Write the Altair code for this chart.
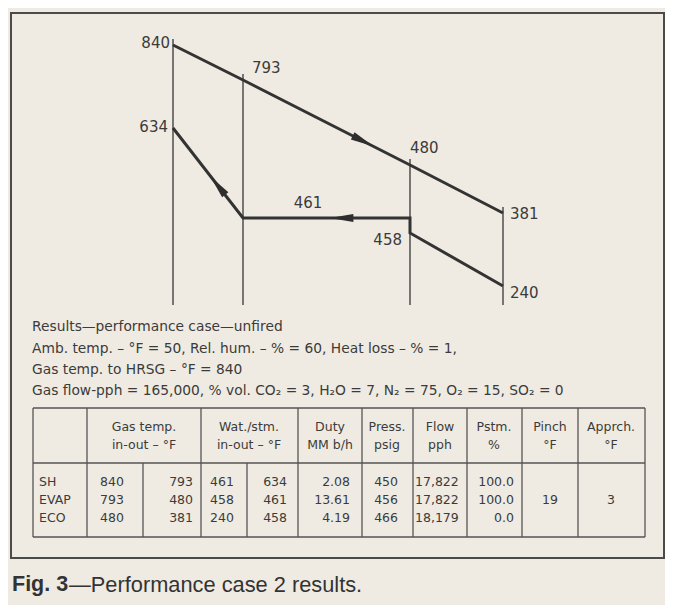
import altair as alt
import pandas as pd

# ---------------- data ----------------
stations = [0, 1, 2, 3]
gas_temps = [840, 793, 480, 381]
water_stations = [0, 1, 2, 2, 3]
water_temps = [634, 461, 461, 458, 240]

info_lines = [
    "Results\u2014performance case\u2014unfired",
    "Amb. temp. \u2013 \u00b0F = 50,  Rel. hum. \u2013 % = 60, Heat loss \u2013 % = 1,",
    "Gas temp. to HRSG \u2013 \u00b0F = 840",
    "Gas flow-pph = 165,000, % vol. CO\u2082 = 3, H\u2082O = 7, N\u2082 = 75, O\u2082 = 15, SO\u2082 = 0",
]

head1 = ["Gas temp.", "Wat./stm.", "Duty", "Press.", "Flow", "Pstm.", "Pinch", "Apprch."]
head2 = ["in-out \u2013 \u00b0F", "in-out \u2013 \u00b0F", "MM b/h", "psig", "pph", "%", "\u00b0F", "\u00b0F"]

sections = ["SH", "EVAP", "ECO"]
gas_in = ["840", "793", "480"]
gas_out = ["793", "480", "381"]
wat_in = ["461", "458", "240"]
wat_out = ["634", "461", "458"]
duty = ["2.08", "13.61", "4.19"]
press = ["450", "456", "466"]
flow = ["17,822", "17,822", "18,179"]
pstm = ["100.0", "100.0", "0.0"]
pinch = ["", "19", ""]
apprch = ["", "3", ""]

caption_bold = "Fig. 3"
caption_rest = "\u2014Performance case 2 results."

# ---------------- layout helpers ----------------
W, H = 657, 597
OX, OY = 8, 8
def px(x):
    return x - OX
def py(y):
    return y - OY

INK = "#3b3b3b"
FONT = "DejaVu Sans"
CAP_FONT = "Liberation Sans"

x_sc = alt.Scale(domain=stations, range=[px(173), px(243), px(410), px(503)], nice=False, zero=False)
gas_sc = alt.Scale(domain=[381, 480, 793, 840], range=[py(213), py(165), py(80), py(45)], nice=False, zero=False)
wat_sc = alt.Scale(domain=[240, 458, 461, 634], range=[py(286), py(233), py(218), py(128)], nice=False, zero=False)

layers = []

# border of the figure
layers.append(
    alt.Chart(pd.DataFrame({"a": [0]})).mark_rect(fill=None, stroke="#4a4a4a", strokeWidth=2)
    .encode(x=alt.value(px(11)), x2=alt.value(px(664)), y=alt.value(py(13)), y2=alt.value(py(558)))
)

# ---------------- diagram ----------------
gas_df = pd.DataFrame({"station": stations, "temp": gas_temps})
layers.append(
    alt.Chart(gas_df).mark_rule(color="#444", strokeWidth=1.4, yOffset=-6)
    .encode(
        x=alt.X("station:Q", scale=x_sc, axis=None),
        y=alt.Y("temp:Q", scale=gas_sc, axis=None),
        y2=alt.value(py(305)),
    )
)
layers.append(
    alt.Chart(gas_df).mark_line(color="#333", strokeWidth=3)
    .encode(x=alt.X("station:Q", scale=x_sc, axis=None), y=alt.Y("temp:Q", scale=gas_sc, axis=None))
)
wat_df = pd.DataFrame({"station": water_stations, "temp": water_temps, "seq": list(range(len(water_temps)))})
layers.append(
    alt.Chart(wat_df).mark_line(color="#333", strokeWidth=3)
    .encode(
        x=alt.X("station:Q", scale=x_sc, axis=None),
        y=alt.Y("temp:Q", scale=wat_sc, axis=None),
        order="seq:Q",
    )
)

def interp(s0, t0, s1, t1, f):
    return s0 + (s1 - s0) * f, t0 + (t1 - t0) * f

arrow_shape = "M-1,-0.34L1,0L-1,0.34Z"
ARROW_SIZE = 560
s, t = interp(1, 793, 2, 480, 0.72)
layers.append(
    alt.Chart(pd.DataFrame({"station": [s], "temp": [t]}))
    .mark_point(shape=arrow_shape, filled=True, color="#2e2e2e", size=ARROW_SIZE, angle=27, opacity=1)
    .encode(x=alt.X("station:Q", scale=x_sc, axis=None), y=alt.Y("temp:Q", scale=gas_sc, axis=None))
)
s, t = interp(1, 461, 0, 634, 0.36)
layers.append(
    alt.Chart(pd.DataFrame({"station": [s], "temp": [t]}))
    .mark_point(shape=arrow_shape, filled=True, color="#2e2e2e", size=ARROW_SIZE, angle=231, opacity=1)
    .encode(x=alt.X("station:Q", scale=x_sc, axis=None), y=alt.Y("temp:Q", scale=wat_sc, axis=None))
)
s, t = interp(2, 461, 1, 461, 0.41)
layers.append(
    alt.Chart(pd.DataFrame({"station": [s], "temp": [t]}))
    .mark_point(shape=arrow_shape, filled=True, color="#2e2e2e", size=ARROW_SIZE, angle=180, opacity=1)
    .encode(x=alt.X("station:Q", scale=x_sc, axis=None), y=alt.Y("temp:Q", scale=wat_sc, axis=None))
)

LBL = 15
gas_label_style = [("right", -3, -2), ("left", 9, -12), ("left", 0, -17), ("left", 7, 1)]
for st, tp, (al, dx, dy) in zip(stations, gas_temps, gas_label_style):
    layers.append(
        alt.Chart(pd.DataFrame({"station": [st], "temp": [tp], "label": [str(tp)]}))
        .mark_text(align=al, baseline="middle", dx=dx, dy=dy, fontSize=LBL, font=FONT, color=INK)
        .encode(x=alt.X("station:Q", scale=x_sc, axis=None), y=alt.Y("temp:Q", scale=gas_sc, axis=None), text="label:N")
    )
wat_label_pts = [(0, 634), (1, 461), (2, 458), (3, 240)]
wat_label_style = [("right", -5, -1), ("center", 65, -15), ("right", -8, 7), ("left", 7, 7)]
for (st, tp), (al, dx, dy) in zip(wat_label_pts, wat_label_style):
    layers.append(
        alt.Chart(pd.DataFrame({"station": [st], "temp": [tp], "label": [str(tp)]}))
        .mark_text(align=al, baseline="middle", dx=dx, dy=dy, fontSize=LBL, font=FONT, color=INK)
        .encode(x=alt.X("station:Q", scale=x_sc, axis=None), y=alt.Y("temp:Q", scale=wat_sc, axis=None), text="label:N")
    )

# ---------------- info text ----------------
for line, yy in zip(info_lines, [327, 349, 370, 391]):
    layers.append(
        alt.Chart(pd.DataFrame({"t": [line]}))
        .mark_text(align="left", baseline="middle", fontSize=13.8, font=FONT, color=INK)
        .encode(x=alt.value(px(32)), y=alt.value(py(yy)), text="t:N")
    )

# ---------------- table ----------------
T_L, T_R, T_T, T_HB, T_B = 33, 645, 408, 463, 537
for yy in [T_T, T_HB, T_B]:
    layers.append(
        alt.Chart(pd.DataFrame({"a": [0]})).mark_rule(color="#555", strokeWidth=1.3)
        .encode(x=alt.value(px(T_L)), x2=alt.value(px(T_R)), y=alt.value(py(yy)))
    )
for xx in [33, 87, 201, 298, 362, 413, 467, 522, 578, 645]:
    layers.append(
        alt.Chart(pd.DataFrame({"a": [0]})).mark_rule(color="#555", strokeWidth=1.3)
        .encode(x=alt.value(px(xx)), y=alt.value(py(T_T)), y2=alt.value(py(T_B)))
    )
for xx in [143, 247]:
    layers.append(
        alt.Chart(pd.DataFrame({"a": [0]})).mark_rule(color="#555", strokeWidth=1.3)
        .encode(x=alt.value(px(xx)), y=alt.value(py(T_HB)), y2=alt.value(py(T_B)))
    )

head_centers = [144, 249, 330, 387, 440, 494, 550, 611]
for h1, h2, cx in zip(head1, head2, head_centers):
    for txt, yy in [(h1, 427), (h2, 445)]:
        layers.append(
            alt.Chart(pd.DataFrame({"t": [txt]}))
            .mark_text(align="center", baseline="middle", fontSize=12.5, font=FONT, color=INK)
            .encode(x=alt.value(px(cx)), y=alt.value(py(yy)), text="t:N")
        )

row_sc = alt.Scale(domain=[0, 2], range=[py(482), py(518)], nice=False, zero=False)
table_cols = [
    (sections, 39, "left"),
    (gas_in, 100, "left"),
    (gas_out, 193, "right"),
    (wat_in, 210, "left"),
    (wat_out, 287, "right"),
    (duty, 350, "right"),
    (press, 398, "right"),
    (flow, 415, "left"),
    (pstm, 514, "right"),
    (pinch, 550, "center"),
    (apprch, 611, "center"),
]
for vals, xx, al in table_cols:
    df = pd.DataFrame({"row": list(range(len(vals))), "t": vals})
    layers.append(
        alt.Chart(df)
        .mark_text(align=al, baseline="middle", fontSize=12.5, font=FONT, color=INK)
        .encode(x=alt.value(px(xx)), y=alt.Y("row:Q", scale=row_sc, axis=None), text="t:N")
    )

# ---------------- caption ----------------
layers.append(
    alt.Chart(pd.DataFrame({"t": [caption_bold]}))
    .mark_text(align="left", baseline="middle", fontSize=21.5, font=CAP_FONT, fontWeight="bold", color="#333")
    .encode(x=alt.value(px(12)), y=alt.value(py(585)), text="t:N")
)
layers.append(
    alt.Chart(pd.DataFrame({"t": [caption_rest]}))
    .mark_text(align="left", baseline="middle", fontSize=21.8, font=CAP_FONT, color="#333")
    .encode(x=alt.value(px(69)), y=alt.value(py(585)), text="t:N")
)

chart = (
    alt.layer(*layers)
    .resolve_scale(x="independent", y="independent")
    .properties(width=W, height=H, padding=0, autosize=alt.AutoSizeParams(type="none"), background="#efebe2")
    .configure_view(stroke=None)
)

chart.save("out.html", embed_options={"renderer": "svg", "actions": False})
